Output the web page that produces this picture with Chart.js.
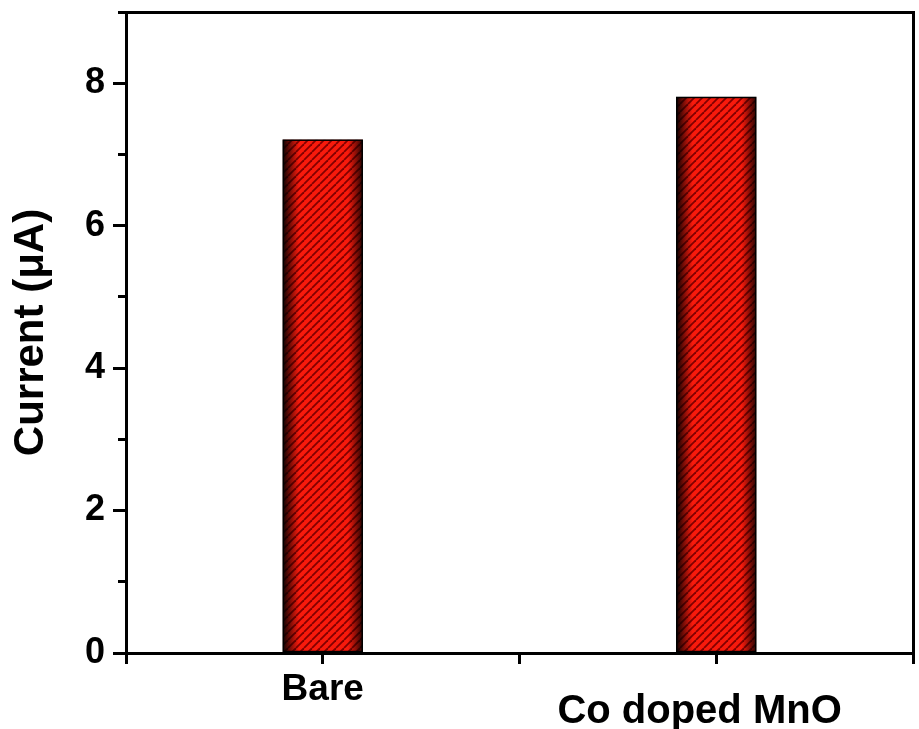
<!DOCTYPE html>
<html>
<head>
<meta charset="utf-8">
<script src="https://cdn.jsdelivr.net/npm/chart.js@4.4.1/dist/chart.umd.min.js"></script>
<style>
  html, body { margin: 0; padding: 0; background: #ffffff; }
  #wrap { width: 919px; height: 729px; }
</style>
</head>
<body>
<div id="wrap"><canvas id="chart" width="919" height="729"></canvas></div>
<script>
// Peak current for each electrode
const categories = ['Bare', 'Co doped MnO'];
const currents = [7.2, 7.8];            // µA
const yTickLabels = ['0', '2', '4', '6', '8'];

const FONT = '"Liberation Sans", Arial, Helvetica, sans-serif';

// Red fill with dark diagonal hatching
function hatchPattern() {
  const s = 8;
  const c = document.createElement('canvas');
  c.width = s; c.height = s;
  const g = c.getContext('2d');
  g.fillStyle = '#f81a0c';
  g.fillRect(0, 0, s, s);
  g.strokeStyle = '#820000';
  g.lineWidth = 1.8;
  for (const k of [-s, 0, s]) {
    g.beginPath();
    g.moveTo(k, s);
    g.lineTo(k + s, 0);
    g.stroke();
  }
  return g.createPattern(c, 'repeat');
}

// Darkened edges give the bars a rounded, cylindrical look
const barShading = {
  id: 'barShading',
  afterDatasetsDraw(chart) {
    const ctx = chart.ctx;
    chart.getDatasetMeta(0).data.forEach(bar => {
      const { x, y, base, width } = bar.getProps(['x', 'y', 'base', 'width'], true);
      const l = x - width / 2, r = x + width / 2;
      const grad = ctx.createLinearGradient(l, 0, r, 0);
      grad.addColorStop(0, 'rgba(0,0,0,0.92)');
      grad.addColorStop(0.2, 'rgba(0,0,0,0)');
      grad.addColorStop(0.82, 'rgba(0,0,0,0)');
      grad.addColorStop(1, 'rgba(0,0,0,0.8)');
      ctx.save();
      ctx.fillStyle = grad;
      ctx.fillRect(l, y, width, base - y);
      ctx.strokeStyle = '#000';
      ctx.lineWidth = 1.5;
      ctx.strokeRect(l, y, width, base - y);
      ctx.restore();
    });
  }
};

// Categories sit at the centres of unit-wide slots on a 0..n axis
const points = currents.map((v, i) => ({ x: i + 0.5, y: v }));
const labelAt = v => {
  const i = v - 0.5;
  return Number.isInteger(i) && categories[i] !== undefined ? categories[i] : '';
};

new Chart(document.getElementById('chart'), {
  type: 'bar',
  data: {
    datasets: [{
      data: points,
      backgroundColor: hatchPattern(),
      borderColor: '#000',
      borderWidth: 0,
      barThickness: 79
    }]
  },
  plugins: [barShading],
  options: {
    responsive: false,
    animation: false,
    layout: { padding: { left: 0, right: 6, top: 12, bottom: 0 } },
    plugins: { legend: { display: false }, tooltip: { enabled: false } },
    scales: {
      x: {
        type: 'linear',
        position: 'bottom',
        offset: false,
        min: 0,
        max: categories.length,
        afterFit(scale) {
          scale.height = 76;
          scale.paddingLeft = 0;
          scale.paddingRight = 0;
        },
        afterBuildTicks(scale) {
          const t = [];
          for (let v = 0; v <= categories.length; v += 0.5) t.push({ value: v });
          scale.ticks = t;
        },
        ticks: {
          autoSkip: false,
          maxRotation: 0,
          padding: 0,
          color: '#000',
          // the second label sits a little left of its tick
          callback: v => {
            const lab = labelAt(v);
            return lab === categories[1] ? lab + '\u00a0\u00a0\u00a0' : lab;
          },
          font: ctx => {
            const lab = ctx.tick ? labelAt(ctx.tick.value) : '';
            return lab === categories[1]
              ? { family: FONT, weight: 'bold', size: 40, lineHeight: 2.4 }
              : { family: FONT, weight: 'bold', size: 37, lineHeight: 1.42 };
          }
        },
        grid: {
          offset: false,
          drawOnChartArea: false,
          color: '#000',
          lineWidth: 3,
          tickLength: 11
        },
        border: { display: true, color: '#000', width: 3 }
      },
      y: {
        position: 'left',
        min: 0,
        max: 9,
        afterFit(scale) {
          scale.width = 126;
          scale.paddingTop = 0;
          scale.paddingBottom = 0;
        },
        afterBuildTicks(scale) {
          const t = [];
          for (let v = 0; v <= 9; v++) t.push({ value: v });
          scale.ticks = t;
        },
        ticks: {
          padding: 8,
          color: '#000',
          font: { family: FONT, weight: 'bold', size: 36 },
          callback: v => (yTickLabels.includes(String(v)) ? String(v) : '')
        },
        grid: {
          drawOnChartArea: false,
          color: '#000',
          lineWidth: 3,
          tickLength: 13,
          tickBorderDash: ctx => (ctx.tick && ctx.tick.value % 2 ? [0, 5, 8, 60] : [])
        },
        border: { display: true, color: '#000', width: 3 },
        title: {
          display: true,
          text: 'Current (μA)',
          color: '#000',
          font: { family: FONT, weight: 'bold', size: 42 },
          padding: { top: 6, bottom: 0 }
        }
      },
      xTop: {
        type: 'linear',
        position: 'top',
        min: 0,
        max: categories.length,
        afterFit(scale) { scale.height = 0; },
        ticks: { display: false },
        grid: { display: false, drawTicks: false },
        border: { display: true, color: '#000', width: 3 }
      },
      yRight: {
        position: 'right',
        min: 0,
        max: 9,
        afterFit(scale) { scale.width = 0; },
        ticks: { display: false },
        grid: { display: false, drawTicks: false },
        border: { display: true, color: '#000', width: 3 }
      }
    }
  }
});
</script>
</body>
</html>
